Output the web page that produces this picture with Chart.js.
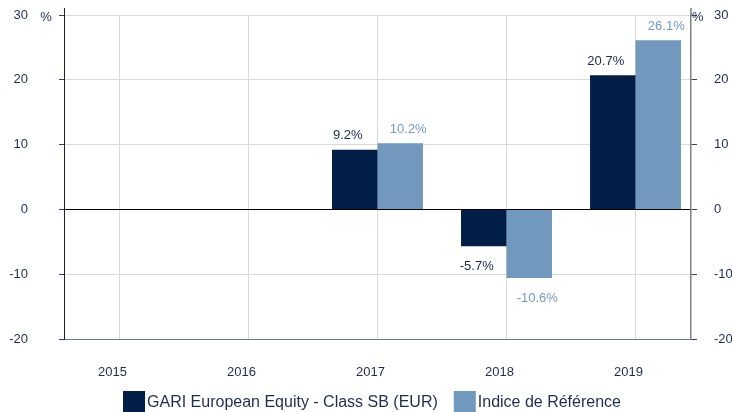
<!DOCTYPE html>
<html>
<head>
<meta charset="utf-8">
<script src="https://cdn.jsdelivr.net/npm/chart.js@4.4.1/dist/chart.umd.min.js"></script>
<style>
  html, body { margin: 0; padding: 0; background: #fff; }
  #wrap { width: 732px; height: 412px; }
</style>
</head>
<body>
<div id="wrap"><canvas id="perfChart" width="732" height="412"></canvas></div>
<script>
// chart data
const years = [2015, 2016, 2017, 2018, 2019];
const fundValues = [null, null, 9.2, -5.7, 20.7];
const indexValues = [null, null, 10.2, -10.6, 26.1];
const yTicks = [-20, -10, 0, 10, 20, 30];
const seriesNames = ['GARI European Equity - Class SB (EUR)', 'Indice de Référence'];

const FONT = "'Liberation Sans', Arial, sans-serif";
const navy = '#001e46';
const lightBlue = '#7199be';
const tickColor = '#1f2d50';

// value labels on top / below bars
const barLabels = {
    id: 'barLabels',
    afterDatasetsDraw(chart) {
        const ctx = chart.ctx;
        ctx.save();
        ctx.font = '13px ' + FONT;
        ctx.textAlign = 'center';
        ctx.textBaseline = 'middle';
        chart.data.datasets.forEach((ds, i) => {
            const meta = chart.getDatasetMeta(i);
            const shift = i === 0 ? -7 : 8; // labels sit a bit outwards
            meta.data.forEach((bar, j) => {
                const v = ds.data[j];
                if (v === null) return;
                ctx.fillStyle = ds.labelColor;
                const y = v >= 0 ? bar.y - 14 : bar.y + 20;
                ctx.fillText(v.toFixed(1) + '%', bar.x + shift, y);
            });
        });
        ctx.restore();
    }
};

// % units, axis stubs and legend
const extras = {
    id: 'extras',
    afterDraw(chart) {
        const ctx = chart.ctx;
        const area = chart.chartArea;
        ctx.save();
        // small extension of both y axes above the plot
        ctx.lineWidth = 1;
        ctx.strokeStyle = '#222222';
        ctx.beginPath();
        ctx.moveTo(area.left + 0.5, area.top - 7);
        ctx.lineTo(area.left + 0.5, area.top);
        ctx.stroke();
        ctx.strokeStyle = '#808080';
        ctx.lineWidth = 1.5;
        ctx.beginPath();
        ctx.moveTo(area.right, area.top - 7);
        ctx.lineTo(area.right, area.top);
        ctx.stroke();

        ctx.font = '13px ' + FONT;
        ctx.fillStyle = tickColor;
        ctx.textBaseline = 'middle';
        ctx.textAlign = 'center';
        ctx.fillText('%', 46, area.top + 2);
        ctx.textAlign = 'left';
        ctx.fillText('%', area.right + 1, area.top + 2);

        // legend
        ctx.font = '16px ' + FONT;
        const box = 22, gap = 2, spacing = 16;
        const w0 = ctx.measureText(seriesNames[0]).width;
        const w1 = ctx.measureText(seriesNames[1]).width;
        const total = box + gap + w0 + spacing + box + gap + w1;
        let x = chart.width / 2 + 6 - total / 2;
        const top = 391;
        const colors = [navy, lightBlue];
        [w0, w1].forEach((w, i) => {
            ctx.fillStyle = colors[i];
            ctx.fillRect(x, top, box, box);
            ctx.fillStyle = tickColor;
            ctx.fillText(seriesNames[i], x + box + gap, top + box / 2 + 1);
            x += box + gap + w + spacing;
        });
        ctx.restore();
    }
};

function fixY(width) {
    return function (scale) {
        scale.width = width;
        scale.paddingTop = 0;
        scale.paddingBottom = 0;
    };
}

new Chart(document.getElementById('perfChart').getContext('2d'), {
    type: 'bar',
    data: {
        labels: years,
        datasets: [
            {
                label: seriesNames[0],
                data: fundValues,
                backgroundColor: navy,
                labelColor: '#1a2a4a',
                categoryPercentage: 0.705,
                barPercentage: 1
            },
            {
                label: seriesNames[1],
                data: indexValues,
                backgroundColor: lightBlue,
                labelColor: '#7399c0',
                categoryPercentage: 0.705,
                barPercentage: 1
            }
        ]
    },
    options: {
        responsive: false,
        animation: false,
        devicePixelRatio: 1,
        layout: { padding: { top: 15, left: 0, right: 0, bottom: 36 } },
        plugins: {
            legend: { display: false },
            tooltip: { enabled: false }
        },
        scales: {
            x: {
                type: 'linear',
                offset: false,
                min: 2014.57,
                max: 2019.43,
                afterFit(scale) { scale.height = 37; },
                ticks: {
                    stepSize: 1,
                    includeBounds: false,
                    padding: 26,
                    labelOffset: -7,
                    color: tickColor,
                    font: { family: FONT, size: 13 },
                    callback: v => String(v)
                },
                grid: { color: '#d9d9d9', drawTicks: false, offset: false },
                border: { color: '#6b7a8f', width: 1 }
            },
            y: {
                position: 'left',
                min: -20,
                max: 30,
                afterFit: fixY(64),
                afterBuildTicks(scale) { scale.ticks = yTicks.map(v => ({ value: v })); },
                ticks: {
                    padding: 31,
                    color: tickColor,
                    font: { family: FONT, size: 13 }
                },
                grid: {
                    color: ctx => ctx.tick && ctx.tick.value === 0 ? '#000000' : '#d9d9d9',
                    tickColor: '#2e3f66',
                    tickLength: 5
                },
                border: { color: '#222222', width: 1 }
            },
            y2: {
                position: 'right',
                min: -20,
                max: 30,
                afterFit: fixY(41),
                afterBuildTicks(scale) { scale.ticks = yTicks.map(v => ({ value: v })); },
                ticks: {
                    padding: 17,
                    color: tickColor,
                    font: { family: FONT, size: 13 }
                },
                grid: {
                    drawOnChartArea: false,
                    tickColor: '#2e3f66',
                    tickLength: 6
                },
                border: { color: '#808080', width: 1.5 }
            }
        }
    },
    plugins: [barLabels, extras]
});
</script>
</body>
</html>
